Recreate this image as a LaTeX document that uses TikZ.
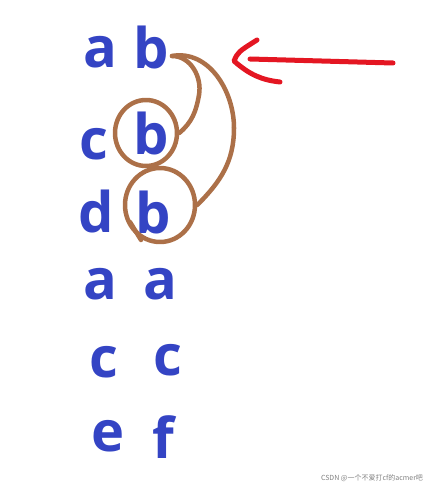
\documentclass[tikz,border=0pt]{standalone}
\usepackage{fontspec}
\setsansfont{Open Sans}
\newfontfamily\cjkfont{Noto Sans CJK SC}
\usetikzlibrary{shapes.geometric}
\definecolor{inkblue}{RGB}{52,68,196}
\definecolor{inkbrown}{RGB}{172,112,72}
\definecolor{inkred}{RGB}{228,22,34}

\begin{document}
\begin{tikzpicture}[x=1pt,y=-1pt,line cap=round,line join=round,
        letter/.style={inkblue,inner sep=0pt,anchor=base,font=\sffamily\bfseries\fontsize{56}{56}\selectfont},
        ring/.style={draw=inkbrown,line width=4.5pt,ellipse,inner sep=0pt},
        loop line/.style={draw=inkbrown,line width=4.5pt}]
        \useasboundingbox (0,0) rectangle (439,492);

        % first column
        \node[letter] (a1) at (100,68) {a};
        \node[letter] (c2) at (94,159) {c};
        \node[letter] (d3) at (96,232) {d};
        \node[letter] (a4) at (100,299) {a};
        \node[letter] (c5) at (104,377) {c};
        \node[letter] (e6) at (108,451) {e};

        % second column
        \node[letter] (b1) at (151,69) {b};
        \node[letter] (b2) at (151,154) {b};
        \node[letter] (b3) at (153,233) {b};
        \node[letter] (a4r) at (160,299) {a};
        \node[letter] (c5r) at (168,375) {c};
        \node[letter] (f6) at (163,458) {f};

        % rings round the repeated b
        \node[ring,minimum width=62pt,minimum height=66pt] (r2) at (146,133) {};
        \node[ring,minimum width=70pt,minimum height=74pt] (r3) at (160,205) {};
        \draw[loop line] (130,222) -- (141,240);

        % loops back to the first b
        \coordinate (top) at (172,56);
        \path[loop line]
        (top) edge[out=0,in=80] (199,95)
        (199,95) edge[out=260,in=40] (r2.east)
        (top) edge[out=10,in=90] (234,128)
        (234,128) edge[out=270,in=45] (r3.east);

        % pointer
        \coordinate (tail) at (393,63);
        \coordinate (tip) at (250,59);
        \draw[inkred,line width=5pt] (tail) -- (tip);
        \draw[inkred,line width=5pt] (257,40) .. controls (238,52) .. (234,61)
            .. controls (250,75) and (262,80) .. (280,82);

        \node[gray,font=\cjkfont\fontsize{7}{7}\selectfont] (mark) at (372,478) {CSDN @一个不爱打cf的acmer吧};
\end{tikzpicture}
\end{document}
